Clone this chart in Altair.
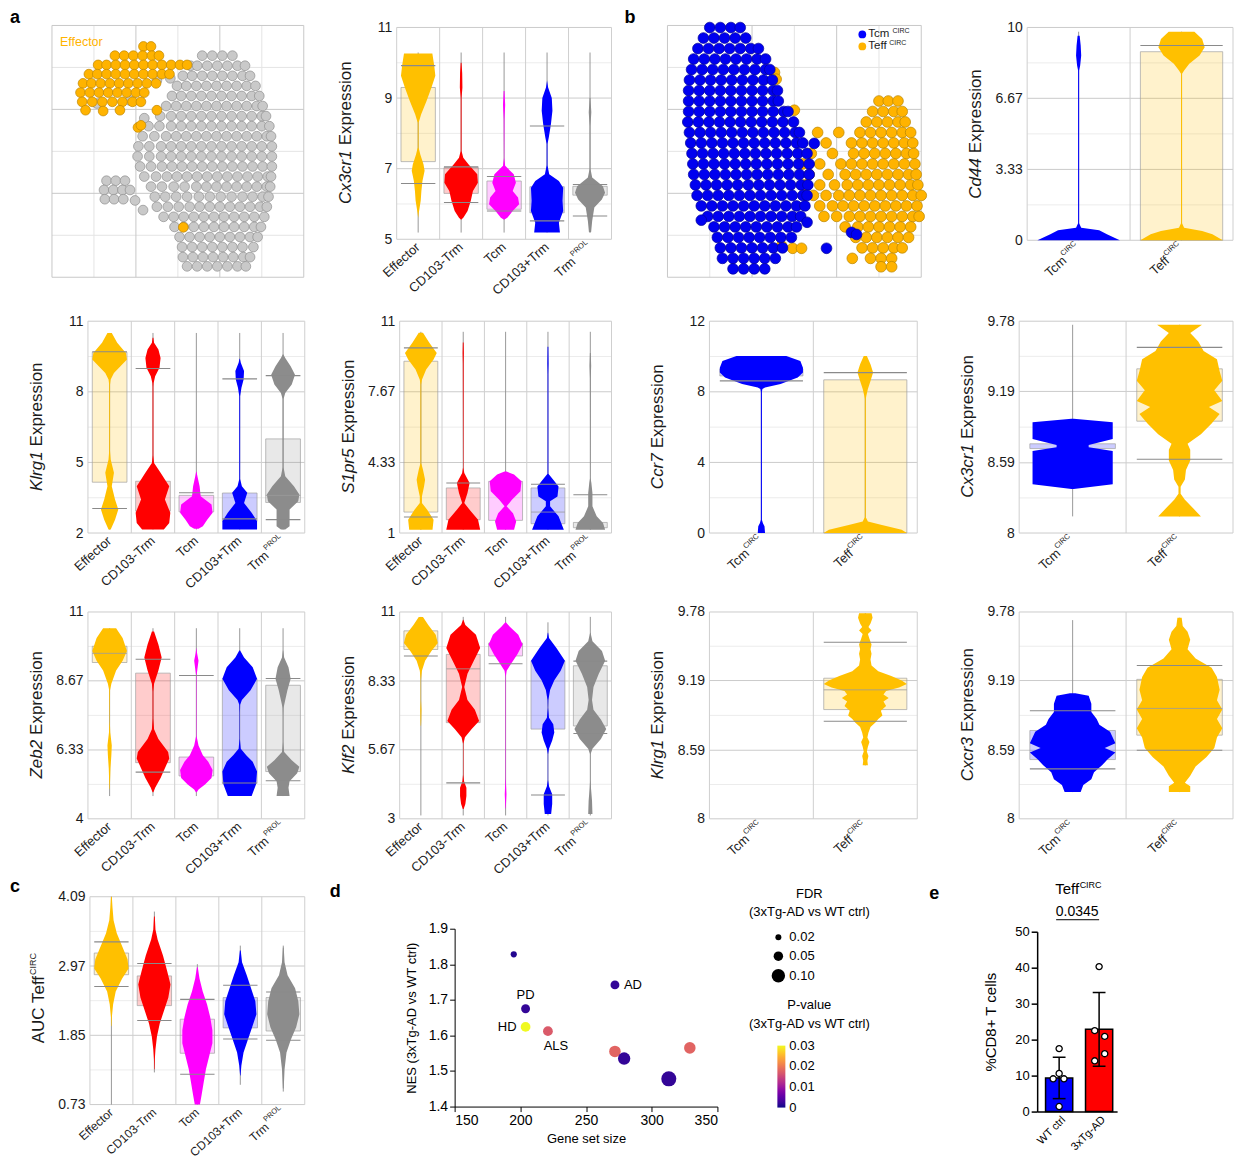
import json
import altair as alt
import pandas as pd

FONT = "Liberation Sans"
INK = "#1b1b1b"
GOLD = "#FFC000"
RED = "#FF0000"
MAG = "#FF00FF"
BLUE = "#0000FF"
GRAY = "#8C8C8C"

# ---------------- categories ----------------
CELL5 = ["Effector", "CD103-Trm", "Tcm", "CD103+Trm", "Trm"]
CELL5_SUP = ["", "", "", "", "PROL"]
CELL5_COL = [GOLD, RED, MAG, BLUE, GRAY]
CIRC2 = ["Tcm", "Teff"]
CIRC2_SUP = ["CIRC", "CIRC"]
CIRC2_COL = [BLUE, GOLD]

# ---------------- violin data: (expression, half-width) profiles, tails, boxes ----------------
# box = (q1, q3, median, lower whisker, upper whisker)
CX3CR1_A_TICKS = [5, 7, 9, 11]
CX3CR1_A_PROF = [
    [(5.6, 0.0), (5.75, 0.03), (6.1, 0.12), (6.37, 0.15), (6.65, 0.2), (6.94, 0.3), (7.12, 0.25), (7.4, 0.1), (7.6, 0.02), (8.3, 0.02), (8.54, 0.14), (8.92, 0.39), (9.3, 0.62), (9.63, 0.8), (9.91, 0.75), (10.26, 0.66)],
    [(5.55, 0.0), (5.61, 0.1), (5.8, 0.3), (6.09, 0.45), (6.37, 0.55), (6.6, 0.78), (6.84, 0.75), (7.12, 0.35), (7.31, 0.1), (7.5, 0.02), (9.0, 0.02), (9.3, 0.06), (9.7, 0.05), (10.0, 0.02)],
    [(5.55, 0.0), (5.61, 0.15), (5.8, 0.4), (5.99, 0.7), (6.18, 0.65), (6.37, 0.4), (6.6, 0.55), (6.84, 0.45), (7.08, 0.05), (7.3, 0.01), (8.4, 0.02), (8.8, 0.05), (9.2, 0.02)],
    [(5.19, 0.6), (5.47, 0.55), (5.8, 0.75), (6.09, 0.72), (6.46, 0.75), (6.65, 0.55), (6.84, 0.1), (7.1, 0.02), (7.7, 0.02), (7.88, 0.08), (8.26, 0.18), (8.64, 0.25), (9.0, 0.22), (9.3, 0.05), (9.5, 0.0)],
    [(5.2, 0.05), (5.52, 0.1), (5.9, 0.2), (6.13, 0.55), (6.32, 0.7), (6.5, 0.6), (6.75, 0.1), (7.0, 0.02), (8.2, 0.02), (8.6, 0.06), (9.0, 0.02)],
]
CX3CR1_A_TAIL = [(5.19, 10.29), (5.19, 10.29), (5.19, 10.29), (5.19, 10.29), (5.19, 10.29)]
CX3CR1_A_BOX = [(7.2, 9.3, None, 6.58, 9.92), (6.3, 7.03, None, 6.04, 7.05), (5.85, 6.65, None, 5.8, 6.78), (5.75, 6.49, None, 5.52, 8.21), (6.25, 6.5, None, 5.66, 6.55)]

KLRG1_A_TICKS = [2, 5, 8, 11]
KLRG1_A_PROF = [
    [(2.15, 0.05), (2.57, 0.25), (3.0, 0.4), (3.42, 0.25), (3.99, 0.1), (4.56, 0.2), (5.12, 0.05), (5.5, 0.02), (8.3, 0.02), (8.52, 0.05), (8.8, 0.2), (9.09, 0.5), (9.37, 0.8), (9.65, 0.75), (10.08, 0.35), (10.5, 0.1)],
    [(2.15, 0.5), (2.43, 0.75), (2.86, 0.8), (3.42, 0.55), (3.99, 0.75), (4.56, 0.35), (4.98, 0.05), (5.3, 0.02), (8.2, 0.02), (8.38, 0.03), (8.66, 0.1), (9.02, 0.3), (9.44, 0.35), (9.8, 0.25), (10.08, 0.05), (10.3, 0.02)],
    [(2.18, 0.1), (2.29, 0.3), (2.57, 0.5), (2.86, 0.75), (3.21, 0.7), (3.56, 0.2), (3.99, 0.15), (4.41, 0.05), (4.6, 0.01)],
    [(2.15, 0.8), (2.5, 0.8), (2.86, 0.55), (3.28, 0.2), (3.71, 0.35), (3.99, 0.1), (4.3, 0.02), (7.6, 0.02), (7.81, 0.02), (8.17, 0.08), (8.52, 0.18), (8.88, 0.2), (9.23, 0.05), (9.4, 0.01)],
    [(2.15, 0.1), (2.29, 0.3), (2.64, 0.3), (3.0, 0.3), (3.35, 0.7), (3.64, 0.75), (3.99, 0.5), (4.41, 0.1), (4.8, 0.02), (7.7, 0.02), (7.95, 0.1), (8.31, 0.4), (8.73, 0.55), (9.09, 0.35), (9.44, 0.1), (9.6, 0.01)],
]
KLRG1_A_TAIL = [(2.15, 10.5)] * 5
KLRG1_A_BOX = [(4.16, 9.68, None, 3.04, 9.7), (2.93, 4.2, None, None, 8.99), (2.9, 3.6, None, None, 3.71), (2.5, 3.7, None, 2.6, 8.55), (3.3, 6.0, 3.6, 2.57, 8.69)]

S1PR5_TICKS = [1, 4.33, 7.67, 11]
S1PR5_PROF = [
    [(1.16, 0.55), (1.63, 0.6), (2.1, 0.3), (2.42, 0.05), (2.73, 0.05), (3.2, 0.15), (3.52, 0.2), (3.99, 0.1), (4.3, 0.02), (8.0, 0.02), (8.24, 0.05), (8.72, 0.25), (9.19, 0.6), (9.5, 0.75), (9.98, 0.4), (10.45, 0.1)],
    [(1.16, 0.8), (1.63, 0.7), (2.1, 0.3), (2.42, 0.05), (2.89, 0.2), (3.36, 0.3), (3.83, 0.05), (4.1, 0.01), (9.0, 0.02), (9.5, 0.03), (10.0, 0.02)],
    [(1.16, 0.4), (1.55, 0.5), (1.94, 0.35), (2.26, 0.05), (2.57, 0.3), (2.97, 0.7), (3.44, 0.75), (3.76, 0.4), (3.9, 0.05)],
    [(1.16, 0.75), (1.79, 0.5), (2.26, 0.1), (2.5, 0.1), (2.73, 0.45), (3.2, 0.5), (3.52, 0.25), (3.8, 0.02), (8.5, 0.02), (9.0, 0.03), (9.8, 0.02)],
    [(1.16, 0.7), (1.47, 0.6), (1.79, 0.3), (2.26, 0.1), (2.89, 0.1), (3.36, 0.05), (3.6, 0.01), (8.3, 0.02), (8.9, 0.04), (9.5, 0.02)],
]
S1PR5_TAIL = [(1.15, 10.5)] * 5
S1PR5_BOX = [(1.99, 9.11, None, 1.76, 9.74), (1.63, 3.13, None, None, 3.36), (1.6, 3.44, None, None, None), (1.44, 3.13, 1.99, None, 3.3), (1.25, 1.5, None, None, 2.81)]

ZEB2_TICKS = [4, 6.33, 8.67, 11]
ZEB2_PROF = [
    [(5.0, 0.01), (5.27, 0.02), (5.71, 0.04), (6.15, 0.08), (6.48, 0.1), (6.92, 0.03), (7.3, 0.01), (8.35, 0.02), (8.57, 0.08), (9.02, 0.3), (9.35, 0.6), (9.68, 0.8), (10.12, 0.6), (10.45, 0.3)],
    [(4.9, 0.02), (5.05, 0.1), (5.38, 0.35), (5.71, 0.55), (6.04, 0.75), (6.26, 0.7), (6.7, 0.25), (7.03, 0.05), (7.4, 0.02), (8.3, 0.02), (8.57, 0.05), (9.02, 0.25), (9.46, 0.4), (9.9, 0.25), (10.34, 0.05)],
    [(4.9, 0.02), (4.99, 0.1), (5.16, 0.4), (5.38, 0.7), (5.65, 0.75), (5.93, 0.55), (6.15, 0.3), (6.48, 0.1), (6.8, 0.01), (8.85, 0.01), (9.07, 0.05), (9.35, 0.1), (9.62, 0.03), (9.8, 0.0)],
    [(4.77, 0.55), (5.16, 0.75), (5.6, 0.8), (5.93, 0.6), (6.15, 0.3), (6.37, 0.05), (6.7, 0.01), (7.6, 0.01), (7.86, 0.02), (8.02, 0.1), (8.35, 0.5), (8.74, 0.8), (9.13, 0.6), (9.46, 0.2), (9.7, 0.02)],
    [(4.77, 0.3), (5.05, 0.25), (5.27, 0.3), (5.54, 0.65), (5.76, 0.75), (5.98, 0.4), (6.26, 0.05), (6.6, 0.01), (7.5, 0.01), (7.75, 0.02), (8.02, 0.1), (8.35, 0.2), (8.74, 0.35), (9.13, 0.25), (9.46, 0.05), (9.7, 0.01)],
]
ZEB2_TAIL = [(4.77, 10.45)] * 5
ZEB2_BOX = [(9.29, 9.84, 9.6, None, None), (5.9, 8.93, None, 5.58, 9.4), (5.45, 6.09, None, None, 8.85), (5.2, 8.74, None, 5.21, None), (5.6, 8.52, None, 5.29, 8.75)]

KLF2_TICKS = [3, 5.67, 8.33, 11]
KLF2_PROF = [
    [(6.6, 0.01), (6.84, 0.02), (7.22, 0.03), (7.6, 0.01), (8.36, 0.01), (8.73, 0.05), (9.11, 0.2), (9.49, 0.5), (9.8, 0.8), (10.12, 0.7), (10.5, 0.35), (10.81, 0.1)],
    [(3.38, 0.02), (3.57, 0.1), (3.88, 0.15), (4.2, 0.15), (4.45, 0.04), (4.7, 0.01), (5.9, 0.01), (6.15, 0.08), (6.47, 0.4), (6.78, 0.75), (7.22, 0.55), (7.6, 0.2), (8.1, 0.05), (8.61, 0.2), (9.11, 0.5), (9.61, 0.8), (10.12, 0.6), (10.5, 0.1), (10.7, 0.01)],
    [(3.4, 0.01), (3.57, 0.02), (3.95, 0.04), (4.33, 0.02), (4.6, 0.01), (8.5, 0.01), (8.73, 0.05), (9.05, 0.3), (9.36, 0.55), (9.74, 0.8), (10.12, 0.6), (10.43, 0.2), (10.6, 0.01)],
    [(3.19, 0.15), (3.57, 0.2), (3.95, 0.2), (4.26, 0.05), (4.5, 0.01), (5.5, 0.01), (5.71, 0.05), (6.03, 0.2), (6.34, 0.3), (6.66, 0.25), (6.91, 0.05), (7.3, 0.01), (7.6, 0.02), (7.98, 0.1), (8.36, 0.3), (8.73, 0.6), (9.11, 0.8), (9.61, 0.4), (9.99, 0.05), (10.2, 0.01)],
    [(3.19, 0.1), (3.7, 0.08), (4.2, 0.03), (4.5, 0.01), (5.5, 0.01), (5.71, 0.1), (6.09, 0.5), (6.47, 0.75), (6.84, 0.5), (7.22, 0.15), (7.6, 0.08), (8.1, 0.15), (8.61, 0.4), (9.11, 0.7), (9.49, 0.55), (9.87, 0.1), (10.2, 0.01)],
]
KLF2_TAIL = [(3.13, 10.81), (3.13, 10.81), (3.13, 10.81), (3.13, 10.6), (3.13, 10.81)]
KLF2_BOX = [(9.55, 10.27, None, 9.3, None), (6.72, 9.36, 8.8, 4.39, None), (9.3, 9.8, None, 9.0, None), (6.47, 9.11, None, 3.92, None), (6.59, 8.92, None, 6.3, 9.1)]

AUC_TICKS = [0.73, 1.85, 2.97, 4.09]
AUC_PROF = [
    [(2.0, 0.01), (2.14, 0.02), (2.35, 0.08), (2.56, 0.2), (2.77, 0.5), (2.93, 0.8), (3.08, 0.75), (3.29, 0.5), (3.5, 0.25), (3.71, 0.1), (3.92, 0.05), (4.09, 0.02)],
    [(1.3, 0.01), (1.46, 0.02), (1.62, 0.05), (1.83, 0.12), (2.04, 0.25), (2.25, 0.45), (2.46, 0.65), (2.67, 0.75), (2.88, 0.6), (3.14, 0.4), (3.4, 0.15), (3.56, 0.05), (3.77, 0.02)],
    [(0.73, 0.12), (0.89, 0.2), (1.1, 0.3), (1.3, 0.4), (1.51, 0.55), (1.72, 0.7), (1.93, 0.7), (2.14, 0.6), (2.35, 0.45), (2.56, 0.25), (2.77, 0.1), (2.95, 0.02)],
    [(1.2, 0.01), (1.36, 0.05), (1.57, 0.15), (1.78, 0.35), (1.98, 0.55), (2.19, 0.75), (2.4, 0.7), (2.61, 0.5), (2.82, 0.3), (3.03, 0.08), (3.22, 0.02)],
    [(0.99, 0.02), (1.3, 0.06), (1.57, 0.15), (1.78, 0.35), (1.98, 0.6), (2.19, 0.75), (2.4, 0.7), (2.61, 0.55), (2.82, 0.2), (3.03, 0.06), (3.27, 0.02)],
]
AUC_TAIL = [(0.73, 4.09), (1.25, 3.85), (0.73, 3.0), (1.05, 3.3), (0.94, 3.3)]
AUC_BOX = [(2.83, 3.18, None, 2.64, 3.36), (2.33, 2.81, None, 2.09, 3.01), (1.56, 2.11, None, 1.22, 2.43), (1.97, 2.46, None, 1.79, 2.66), (1.92, 2.46, None, 1.77, 2.55)]

CD44_TICKS = [0, 3.33, 6.67, 10]
CD44_PROF = [
    [(0.0, 0.8), (0.28, 0.55), (0.47, 0.4), (0.59, 0.05), (0.8, 0.01), (7.98, 0.01), (8.21, 0.03), (8.68, 0.05), (9.15, 0.04), (9.61, 0.02)],
    [(0.0, 0.8), (0.28, 0.6), (0.44, 0.4), (0.59, 0.05), (0.8, 0.01), (7.82, 0.01), (7.98, 0.05), (8.29, 0.15), (8.68, 0.35), (9.07, 0.45), (9.46, 0.4), (9.8, 0.25)],
]
CD44_TAIL = [(0.0, 9.8), (0.0, 9.8)]
CD44_BOX = [None, (0.0, 8.86, None, None, 9.15)]

CCR7_TICKS = [0, 4, 8, 12]
CCR7_PROF = [
    [(0.0, 0.07), (0.38, 0.06), (0.56, 0.03), (0.75, 0.01), (8.0, 0.01), (8.16, 0.02), (8.25, 0.07), (8.44, 0.37), (8.81, 0.7), (9.09, 0.8), (9.37, 0.8), (9.75, 0.75), (10.03, 0.48)],
    [(0.0, 0.8), (0.19, 0.7), (0.47, 0.3), (0.66, 0.05), (0.9, 0.01), (7.6, 0.01), (7.78, 0.02), (8.16, 0.05), (8.62, 0.1), (9.09, 0.15), (9.56, 0.1), (10.03, 0.03)],
]
CCR7_TAIL = [(0.0, 8.2), (0.0, 8.0)]
CCR7_BOX = [(8.9, 9.3, None, 8.62, None), (0.0, 8.68, None, None, 9.09)]

CX3CR1_B_TICKS = [8, 8.59, 9.19, 9.78]
CX3CR1_B_PROF = [
    [(8.37, 0.02), (8.41, 0.75), (8.69, 0.75), (8.72, 0.3), (8.74, 0.3), (8.79, 0.75), (8.93, 0.75), (8.96, 0.02)],
    [(8.14, 0.4), (8.21, 0.25), (8.28, 0.1), (8.33, 0.02), (8.39, 0.02), (8.45, 0.1), (8.53, 0.12), (8.61, 0.2), (8.7, 0.2), (8.75, 0.15), (8.83, 0.4), (8.92, 0.6), (9.0, 0.75), (9.06, 0.55), (9.11, 0.8), (9.2, 0.65), (9.28, 0.8), (9.36, 0.75), (9.46, 0.7), (9.53, 0.45), (9.61, 0.35), (9.68, 0.2), (9.75, 0.42)],
]
CX3CR1_B_TAIL = [(8.14, 9.75), (8.14, 9.75)]
CX3CR1_B_BOX = [(8.71, 8.75, None, None, None), (8.94, 9.38, None, 8.62, 9.56)]

KLRG1_B_TICKS = [8, 8.59, 9.19, 9.78]
KLRG1_B_PROF = [
    [],
    [(8.46, 0.05), (8.5, 0.04), (8.54, 0.06), (8.58, 0.03), (8.62, 0.05), (8.66, 0.08), (8.7, 0.04), (8.74, 0.06), (8.79, 0.1), (8.83, 0.2), (8.86, 0.25), (8.89, 0.33), (8.93, 0.3), (8.97, 0.4), (9.01, 0.35), (9.04, 0.45), (9.07, 0.35), (9.1, 0.4), (9.13, 0.65), (9.16, 0.8), (9.19, 0.7), (9.23, 0.5), (9.27, 0.25), (9.32, 0.12), (9.37, 0.1), (9.42, 0.12), (9.46, 0.1), (9.5, 0.12), (9.55, 0.08), (9.59, 0.05), (9.62, 0.12), (9.65, 0.06), (9.68, 0.1), (9.73, 0.14), (9.77, 0.12)],
]
KLRG1_B_TAIL = [None, (8.46, 9.77)]
KLRG1_B_BOX = [None, (8.94, 9.21, 9.11, 8.84, 9.52)]

CXCR3_TICKS = [8, 8.59, 9.19, 9.78]
CXCR3_PROF = [
    [(8.23, 0.15), (8.29, 0.2), (8.34, 0.35), (8.4, 0.4), (8.46, 0.55), (8.51, 0.65), (8.57, 0.8), (8.61, 0.6), (8.65, 0.8), (8.7, 0.75), (8.75, 0.7), (8.81, 0.5), (8.86, 0.45), (8.92, 0.35), (8.99, 0.35), (9.06, 0.3), (9.08, 0.05)],
    [(8.23, 0.2), (8.28, 0.2), (8.31, 0.1), (8.37, 0.2), (8.45, 0.3), (8.53, 0.5), (8.61, 0.65), (8.7, 0.7), (8.78, 0.8), (8.86, 0.7), (8.94, 0.8), (9.02, 0.7), (9.11, 0.75), (9.22, 0.7), (9.3, 0.6), (9.38, 0.3), (9.46, 0.15), (9.54, 0.2), (9.61, 0.15), (9.66, 0.06), (9.73, 0.04)],
]
CXCR3_TAIL = [(8.23, 9.71), (8.23, 9.73)]
CXCR3_BOX = [(8.51, 8.76, None, 8.43, 8.93), (8.72, 9.2, 8.95, 8.59, 9.32)]

# ---------------- UMAP points (read row by row) ----------------
A_GRAY_ROWS = [
    (5.28, [3.58, 3.82, 4.06, 4.30]),
    (5.04, [3.30, 3.46, 3.70, 3.94, 4.18, 4.42, 4.60]),
    (4.80, [3.12, 3.34, 3.58, 3.82, 4.06, 4.30, 4.54, 4.72]),
    (4.56, [2.98, 3.20, 3.44, 3.68, 3.92, 4.16, 4.40, 4.64, 4.85]),
    (4.32, [2.86, 3.08, 3.32, 3.56, 3.80, 4.04, 4.28, 4.52, 4.76, 4.94]),
    (4.08, [2.72, 2.96, 3.20, 3.44, 3.68, 3.92, 4.16, 4.40, 4.64, 4.88, 5.02]),
    (3.84, [2.58, 2.84, 3.08, 3.32, 3.56, 3.80, 4.04, 4.28, 4.52, 4.76, 5.00, 5.10]),
    (3.60, [2.30, 2.56, 2.84, 3.08, 3.32, 3.56, 3.80, 4.04, 4.28, 4.52, 4.76, 5.00, 5.18]),
    (3.36, [2.16, 2.44, 2.72, 2.96, 3.20, 3.44, 3.68, 3.92, 4.16, 4.40, 4.64, 4.88, 5.12, 5.22]),
    (3.12, [2.06, 2.32, 2.60, 2.84, 3.08, 3.32, 3.56, 3.80, 4.04, 4.28, 4.52, 4.76, 5.00, 5.24]),
    (2.88, [2.04, 2.32, 2.60, 2.84, 3.08, 3.32, 3.56, 3.80, 4.04, 4.28, 4.52, 4.76, 5.00, 5.24]),
    (2.64, [2.10, 2.36, 2.62, 2.86, 3.10, 3.34, 3.58, 3.82, 4.06, 4.30, 4.54, 4.78, 5.02, 5.24]),
    (2.40, [2.20, 2.48, 2.74, 2.98, 3.22, 3.46, 3.70, 3.94, 4.18, 4.42, 4.66, 4.90, 5.14, 5.22]),
    (2.16, [2.36, 2.62, 2.90, 3.16, 3.44, 3.68, 3.92, 4.16, 4.40, 4.64, 4.88, 5.12, 5.20]),
    (1.92, [2.45, 2.70, 2.96, 3.22, 3.50, 3.76, 4.02, 4.28, 4.54, 4.78, 5.02, 5.16]),
    (1.68, [2.50, 2.76, 3.02, 3.28, 3.52, 3.76, 4.00, 4.24, 4.48, 4.72, 4.96, 5.12]),
    (1.44, [2.66, 2.90, 3.14, 3.38, 3.62, 3.86, 4.10, 4.34, 4.58, 4.82, 5.06]),
    (1.20, [2.92, 3.14, 3.38, 3.62, 3.86, 4.10, 4.34, 4.58, 4.82, 4.98]),
    (0.96, [3.04, 3.28, 3.52, 3.76, 4.00, 4.24, 4.48, 4.72, 4.90]),
    (0.72, [3.10, 3.34, 3.58, 3.82, 4.06, 4.30, 4.54, 4.80]),
    (0.48, [3.12, 3.36, 3.60, 3.84, 4.08, 4.32, 4.56, 4.72]),
    (0.26, [3.22, 3.46, 3.70, 3.94, 4.18, 4.42, 4.62]),
    (2.30, [1.30, 1.52, 1.74]),
    (2.08, [1.24, 1.46, 1.68, 1.86]),
    (1.86, [1.26, 1.48, 1.70]),
]
A_GRAY_STRAY = [(1.98, 1.83), (2.17, 1.60), (2.50, 4.69), (2.82, 4.74), (2.20, 3.79), (1.07, 4.14), (1.86, 4.21)]
A_EFF_ROWS = [
    (5.50, [2.18, 2.36]),
    (5.28, [1.50, 1.72, 1.94, 2.16, 2.38, 2.55]),
    (5.06, [1.10, 1.30, 1.52, 1.74, 1.96, 2.18, 2.40, 2.62, 2.84, 3.05, 3.22]),
    (4.84, [0.88, 1.08, 1.30, 1.52, 1.74, 1.96, 2.18, 2.40, 2.62, 2.80]),
    (4.62, [0.74, 0.94, 1.16, 1.38, 1.60, 1.82, 2.04, 2.26, 2.48]),
    (4.40, [0.68, 0.90, 1.12, 1.34, 1.56, 1.78, 2.00, 2.20]),
    (4.18, [0.72, 0.96, 1.20, 1.44, 1.68, 1.92, 2.12]),
]
A_EFF_STRAY = [(0.80, 3.98), (1.22, 3.96), (1.62, 3.98), (2.50, 3.98), (2.05, 3.57), (2.12, 3.62), (3.13, 1.19)]

B_TCM_ROWS = [
    (5.95, [1.00, 1.25, 1.50, 1.72]),
    (5.70, [0.85, 1.10, 1.35, 1.60, 1.85]),
    (5.45, [0.72, 0.97, 1.22, 1.47, 1.72, 1.97, 2.15]),
    (5.20, [0.62, 0.87, 1.12, 1.37, 1.62, 1.87, 2.12, 2.32]),
    (4.95, [0.57, 0.82, 1.07, 1.32, 1.57, 1.82, 2.07, 2.32, 2.42]),
    (4.70, [0.52, 0.77, 1.02, 1.27, 1.52, 1.77, 2.02, 2.27, 2.48]),
    (4.45, [0.50, 0.75, 1.00, 1.25, 1.50, 1.75, 2.00, 2.25, 2.50, 2.60]),
    (4.20, [0.50, 0.75, 1.00, 1.25, 1.50, 1.75, 2.00, 2.25, 2.50, 2.62]),
    (3.95, [0.50, 0.75, 1.00, 1.25, 1.50, 1.75, 2.00, 2.25, 2.50, 2.75, 2.85]),
    (3.70, [0.48, 0.73, 0.98, 1.23, 1.48, 1.73, 1.98, 2.23, 2.48, 2.73, 2.98]),
    (3.45, [0.52, 0.77, 1.02, 1.27, 1.52, 1.77, 2.02, 2.27, 2.52, 2.77, 3.02, 3.12]),
    (3.20, [0.55, 0.80, 1.05, 1.30, 1.55, 1.80, 2.05, 2.30, 2.55, 2.80, 3.05, 3.20]),
    (2.95, [0.58, 0.83, 1.08, 1.33, 1.58, 1.83, 2.08, 2.33, 2.58, 2.83, 3.08, 3.30]),
    (2.70, [0.60, 0.85, 1.10, 1.35, 1.60, 1.85, 2.10, 2.35, 2.60, 2.85, 3.10, 3.35]),
    (2.45, [0.62, 0.87, 1.12, 1.37, 1.62, 1.87, 2.12, 2.37, 2.62, 2.87, 3.12, 3.35]),
    (2.20, [0.66, 0.91, 1.16, 1.41, 1.66, 1.91, 2.16, 2.41, 2.66, 2.91, 3.16, 3.32]),
    (1.95, [0.70, 0.95, 1.20, 1.45, 1.70, 1.95, 2.20, 2.45, 2.70, 2.95, 3.20, 3.30]),
    (1.70, [0.80, 1.05, 1.30, 1.55, 1.80, 2.05, 2.30, 2.55, 2.80, 3.05, 3.25]),
    (1.45, [0.95, 1.20, 1.45, 1.70, 1.95, 2.20, 2.45, 2.70, 2.95, 3.15]),
    (1.20, [1.10, 1.35, 1.60, 1.85, 2.10, 2.35, 2.60, 2.85, 3.05]),
    (0.95, [1.18, 1.43, 1.68, 1.93, 2.18, 2.43, 2.68, 2.93]),
    (0.70, [1.25, 1.50, 1.75, 2.00, 2.25, 2.50, 2.72]),
    (0.45, [1.30, 1.55, 1.80, 2.05, 2.30, 2.55]),
    (0.20, [1.55, 1.80, 2.05, 2.30]),
]
B_TCM_STRAY = [(3.47, 3.19), (4.35, 1.07), (4.47, 1.02), (3.76, 0.69), (0.80, 1.36), (3.30, 1.31)]
B_TEFF_ROWS = [
    (4.20, [5.00, 5.22, 5.45]),
    (3.95, [4.85, 5.10, 5.35, 5.55]),
    (3.70, [4.70, 4.95, 5.20, 5.45, 5.62]),
    (3.45, [3.55, 4.05, 4.55, 4.80, 5.05, 5.30, 5.55, 5.75]),
    (3.20, [3.75, 4.35, 4.60, 4.85, 5.10, 5.35, 5.60, 5.80]),
    (2.95, [3.40, 3.90, 4.40, 4.65, 4.90, 5.15, 5.40, 5.65, 5.82]),
    (2.70, [3.20, 3.60, 4.10, 4.35, 4.60, 4.85, 5.10, 5.35, 5.60, 5.85]),
    (2.45, [3.35, 3.80, 4.20, 4.45, 4.70, 4.95, 5.20, 5.45, 5.70, 5.88]),
    (2.20, [3.25, 3.60, 3.95, 4.25, 4.50, 4.75, 5.00, 5.25, 5.50, 5.75, 5.92]),
    (1.95, [3.45, 3.75, 4.05, 4.30, 4.55, 4.80, 5.05, 5.30, 5.55, 5.80, 6.00]),
    (1.70, [3.60, 3.90, 4.15, 4.40, 4.65, 4.90, 5.15, 5.40, 5.65, 5.90]),
    (1.45, [3.70, 4.00, 4.30, 4.55, 4.80, 5.05, 5.30, 5.55, 5.80, 5.95]),
    (1.20, [4.20, 4.50, 4.75, 5.00, 5.25, 5.50, 5.75]),
    (0.95, [4.45, 4.70, 4.95, 5.20, 5.45, 5.70]),
    (0.70, [4.60, 4.85, 5.10, 5.35, 5.55]),
    (0.45, [4.80, 5.05, 5.30]),
    (0.25, [5.05, 5.30]),
]
B_TEFF_STRAY = [(2.53, 4.88), (2.57, 4.72), (3.00, 3.98), (4.37, 0.45), (2.96, 0.69), (3.17, 0.69), (2.70, 0.75)]

# ---------------- panel d (GSEA) ----------------
D_GENESET = [195, 204, 272, 204, 221, 272, 279, 313, 329]
D_NES = [1.828, 1.675, 1.742, 1.624, 1.612, 1.555, 1.535, 1.478, 1.565]
D_FDR = [0.021, 0.044, 0.044, 0.053, 0.053, 0.074, 0.085, 0.126, 0.074]
D_PVAL = [0.001, 0.002, 0.002, 0.030, 0.017, 0.018, 0.002, 0.002, 0.018]
D_LABEL = ["", "PD", "AD", "HD", "ALS", "", "", "", ""]
D_PVAL_TICKS = ["0.03", "0.02", "0.01", "0"]

# ---------------- panel e (bar) ----------------
E_GROUPS = ["WT ctrl", "3xTg-AD"]
E_MEAN = [9.3, 22.9]
E_SD_LO = [3.6, 12.6]
E_SD_HI = [15.1, 33.1]
E_PT_GROUP = [0, 0, 0, 0, 0, 1, 1, 1, 1, 1]
E_PT_VALUE = [17.5, 10.6, 9.1, 9.1, 1.4, 40.3, 22.5, 20.9, 16.1, 14.1]
E_PT_JITTER = [0.0, 0.0, -0.15, 0.12, 0.0, 0.0, -0.11, 0.14, 0.14, -0.11]

VIEW_W, VIEW_H = 1226, 1150
MAJOR_GRID = "#cbcbcb"
MINOR_GRID = "#ececec"


# ================= helpers =================
def tw(s, size):
    tot = 0.0
    for ch in s:
        if ch in "il":
            w = 0.222
        elif ch in "fjt I":
            w = 0.278
        elif ch in "r-":
            w = 0.333
        elif ch == "m":
            w = 0.833
        elif ch.isupper():
            w = 0.70
        elif ch.isdigit():
            w = 0.556
        else:
            w = 0.53
        tot += w
    return tot * size


def one():
    return pd.DataFrame({"k": [0]})


def label(s, x, y, **kw):
    return alt.Chart(one()).mark_text(text=s, **kw).encode(x=alt.value(x), y=alt.value(y))


def letter(s, x, y):
    return label(s, x, y, fontSize=18, fontWeight="bold", align="left", baseline="alphabetic", color="black")


def hgrid(values, Y, L, W, color):
    return alt.Chart(pd.DataFrame({"v": values})).mark_rule(color=color, strokeWidth=1).encode(
        y=Y("v"), x=alt.value(L), x2=alt.value(L + W))


def vgrid(values, X, T, H, color):
    return alt.Chart(pd.DataFrame({"b": values})).mark_rule(color=color, strokeWidth=1).encode(
        x=X("b"), y=alt.value(T), y2=alt.value(T + H))


def violin_panel(gene, ticks, prof, tails, boxes, names, sups, colors, L, W, T, H, lab_size=13, extra=()):
    """Plot rectangle at (L, T, W, H) inside the shared canvas."""
    n = len(names)
    minors = [round((a + b) / 2.0, 4) for a, b in zip(ticks[:-1], ticks[1:])]
    xs = alt.Scale(domain=[-0.5, n - 0.5], range=[L, L + W], nice=False, zero=False)
    ys = alt.Scale(domain=[ticks[0], ticks[-1]], range=[T + H, T], nice=False, zero=False)
    yax = alt.Axis(orient="left", values=ticks, format=".2~f", grid=False, ticks=False,
                   domain=False, title=None, labelFontSize=14, labelColor=INK, labelPadding=5, offset=-L)

    def X(f):
        return alt.X(f, type="quantitative", scale=xs, axis=None)

    def Y(f):
        return alt.Y(f, type="quantitative", scale=ys, axis=yax)

    cs = alt.Scale(domain=list(range(n)), range=colors)
    layers = [
        hgrid(minors, Y, L, W, MINOR_GRID),
        hgrid(ticks, Y, L, W, MAJOR_GRID),
        vgrid([i - 0.5 for i in range(n + 1)], X, T, H, "#cfcfcf"),
    ]
    box_df = pd.DataFrame([{"g": i, "q1": b[0], "q3": b[1]} for i, b in enumerate(boxes) if b])
    if len(box_df):
        layers.append(alt.Chart(box_df).mark_rect(fillOpacity=0.2, stroke="#a0a0a0", strokeWidth=0.7)
                      .transform_calculate(xl="datum.g - 0.4", xr="datum.g + 0.4")
                      .encode(x=X("xl"), x2="xr:Q", y=Y("q1"), y2="q3:Q",
                              fill=alt.Fill("g:N", scale=cs, legend=None)))
    tail_df = pd.DataFrame([{"g": i, "lo": t[0], "hi": t[1]} for i, t in enumerate(tails) if t])
    layers.append(alt.Chart(tail_df).mark_rule(color="#8d8d8d", strokeWidth=0.9)
                  .encode(x=X("g"), y=Y("lo"), y2="hi:Q"))
    for i, p in enumerate(prof):
        if not p:
            continue
        pdf = pd.DataFrame({"g": i, "y": [a for a, _ in p], "w": [b for _, b in p]})
        layers.append(alt.Chart(pdf).mark_area(orient="horizontal", fill=colors[i], opacity=1)
                      .transform_calculate(xl="datum.g - datum.w * 0.5", xr="datum.g + datum.w * 0.5")
                      .encode(y=Y("y"), x=X("xl"), x2="xr:Q"))
    wh_df = pd.DataFrame([{"g": i, "v": v} for i, b in enumerate(boxes) if b for v in (b[3], b[4]) if v is not None])
    if len(wh_df):
        layers.append(alt.Chart(wh_df).mark_rule(color="#8a8a8a", strokeWidth=1.1)
                      .transform_calculate(xl="datum.g - 0.4", xr="datum.g + 0.4")
                      .encode(x=X("xl"), x2="xr:Q", y=Y("v")))
    md_df = pd.DataFrame([{"g": i, "v": b[2]} for i, b in enumerate(boxes) if b and b[2] is not None])
    if len(md_df):
        layers.append(alt.Chart(md_df).mark_rule(color="#9a9a9a", strokeWidth=0.8)
                      .transform_calculate(xl="datum.g - 0.4", xr="datum.g + 0.4")
                      .encode(x=X("xl"), x2="xr:Q", y=Y("v")))
    lab = pd.DataFrame({"g": list(range(n)), "name": names, "sup": sups})
    tstyle = dict(angle=318, align="right", baseline="middle", fontSize=lab_size, color=INK)
    ly = T + H + 6
    plain = lab[lab["sup"] == ""]
    if len(plain):
        layers.append(alt.Chart(plain).mark_text(**tstyle).encode(x=X("g"), y=alt.value(ly), text="name:N"))
    for s in sorted(set(x for x in sups if x)):
        sub = lab[lab["sup"] == s]
        layers.append(alt.Chart(sub).mark_text(dx=-(tw(s, 7.5) + 1), **tstyle)
                      .encode(x=X("g"), y=alt.value(ly), text="name:N"))
        layers.append(alt.Chart(sub).mark_text(angle=318, align="right", baseline="middle", fontSize=7.5, dy=-5,
                                               color=INK).encode(x=X("g"), y=alt.value(ly), text="sup:N"))
    if gene:
        gw = tw(gene, 17)
        ew = tw("Expression", 17)
        ay = T + H / 2.0 + (ew - gw) / 2.0
        layers.append(label(gene, L - 51, ay, angle=270, align="right", baseline="middle", fontSize=17,
                            fontStyle="italic", dx=-2, color=INK))
        layers.append(label("Expression", L - 51, ay, angle=270, align="left", baseline="middle", fontSize=17,
                            dx=3, color=INK))
    layers += list(extra)
    return alt.layer(*layers)


def umap_grid(X, Y, L, W, T, H):
    lines = [0, 1, 2, 3, 4, 5, 6]
    minor = [v for v in lines if v % 2]
    major = [v for v in lines if v % 2 == 0]
    return [hgrid(minor, Y, L, W, "#e4e4e4"), vgrid(minor, X, T, H, "#e4e4e4"),
            hgrid(major, Y, L, W, "#c8c8c8"), vgrid(major, X, T, H, "#c8c8c8")]


def pts_layer(rows, strays, fill, stroke, size, X, Y):
    pts = [{"u": u, "v": v} for v, us in rows for u in us] + [{"u": u, "v": v} for u, v in strays]
    return alt.Chart(pd.DataFrame(pts)).mark_circle(size=size, fill=fill, stroke=stroke, strokeWidth=0.7,
                                                    opacity=1).encode(x=X("u"), y=Y("v"))


def umap_scales(L, W, T, H):
    xs = alt.Scale(domain=[0, 6], range=[L, L + W], nice=False, zero=False)
    ys = alt.Scale(domain=[0, 6], range=[T + H, T], nice=False, zero=False)

    def X(f):
        return alt.X(f, type="quantitative", scale=xs, axis=None)

    def Y(f):
        return alt.Y(f, type="quantitative", scale=ys, axis=None)
    return X, Y


def panel_a(L, W, T, H):
    X, Y = umap_scales(L, W, T, H)
    return alt.layer(
        *umap_grid(X, Y, L, W, T, H),
        pts_layer(A_GRAY_ROWS, A_GRAY_STRAY, "#c9c9c9", "#8f8f8f", 95, X, Y),
        pts_layer(A_EFF_ROWS, A_EFF_STRAY, "#FFB300", "#C08600", 95, X, Y),
        label("Effector", L + 8, T + 17, fontSize=12.5, align="left", baseline="middle", color="#FFB300"),
        letter("a", 2, 15),
    )


def panel_b(L, W, T, H):
    X, Y = umap_scales(L, W, T, H)
    tcm_w = tw("Tcm", 11.5)
    teff_w = tw("Teff", 11.5)
    lx = L + 195
    return alt.layer(
        *umap_grid(X, Y, L, W, T, H),
        pts_layer(B_TEFF_ROWS, B_TEFF_STRAY, "#FFB300", "#B88500", 115, X, Y),
        pts_layer(B_TCM_ROWS, B_TCM_STRAY, "#0000F0", "#00009A", 115, X, Y),
        alt.Chart(one()).mark_circle(size=60, fill=BLUE, opacity=1).encode(x=alt.value(lx), y=alt.value(T + 9)),
        alt.Chart(one()).mark_circle(size=60, fill="#FFB300", opacity=1).encode(x=alt.value(lx),
                                                                               y=alt.value(T + 21)),
        label("Tcm", lx + 6, T + 9, fontSize=11.5, align="left", baseline="middle", color=INK),
        label("CIRC", lx + 6 + tcm_w + 0.5, T + 6, fontSize=7, align="left", baseline="middle", color=INK),
        label("Teff", lx + 6, T + 21, fontSize=11.5, align="left", baseline="middle", color=INK),
        label("CIRC", lx + 6 + teff_w + 0.5, T + 18, fontSize=7, align="left", baseline="middle", color=INK),
        letter("b", L - 43, 15),
    )


def panel_d(L, W, top, base):
    df = pd.DataFrame({"gss": D_GENESET, "nes": D_NES, "fdr": D_FDR, "p": D_PVAL, "lab": D_LABEL})
    xs = alt.Scale(domain=[150, 350], range=[L, L + W], nice=False, zero=False)
    ys = alt.Scale(domain=[1.4, 1.9], range=[base, top], nice=False, zero=False)
    common = dict(labelFontSize=14, labelColor="black", tickColor="black", tickSize=5, domainColor="black",
                  grid=False, titleFontSize=13, titleFontWeight="normal", titleColor="black")
    xax = alt.Axis(orient="bottom", values=[150, 200, 250, 300, 350], format="d", title="Gene set size",
                   titlePadding=5, labelPadding=2, offset=-(VIEW_H - base), **common)
    yax = alt.Axis(orient="left", values=[1.4, 1.5, 1.6, 1.7, 1.8, 1.9], format=".1f",
                   title="NES (3xTg-AD vs WT ctrl)", titlePadding=10, offset=-L, **common)
    X = alt.X("gss:Q", scale=xs, axis=xax)
    Y = alt.Y("nes:Q", scale=ys, axis=yax)
    grad_top, grad_len = 1038, 62
    pts = alt.Chart(df).mark_circle(opacity=1).encode(
        x=X, y=Y,
        size=alt.Size("fdr:Q", scale=alt.Scale(domain=[0, 0.1], range=[0, 180]),
                      legend=alt.Legend(orient="none", legendX=764, legendY=923, title=None,
                                        values=[0.02, 0.05, 0.1], format=".2f", symbolFillColor="black",
                                        symbolStrokeColor="black", symbolStrokeWidth=0, symbolType="circle",
                                        labelFontSize=13, labelColor="black", rowPadding=5, padding=0)),
        color=alt.Color("p:Q", scale=alt.Scale(scheme="plasma", domain=[0, 0.03]),
                        legend=alt.Legend(orient="none", legendX=770, legendY=grad_top, title=None,
                                          labelOpacity=0, gradientLength=grad_len, gradientThickness=8,
                                          direction="vertical", padding=0)),
    )
    step = grad_len / (len(D_PVAL_TICKS) - 1)
    grad_labels = [label(t, 782, grad_top + k * step, fontSize=13, align="left", baseline="middle",
                         color="black") for k, t in enumerate(D_PVAL_TICKS)]
    tstyle = dict(fontSize=13, color="black")
    labs = [
        alt.Chart(df).transform_filter("datum.lab == 'PD'").mark_text(align="center", baseline="middle", dy=-14,
                                                                      **tstyle).encode(x=X, y=Y, text="lab:N"),
        alt.Chart(df).transform_filter("datum.lab == 'AD'").mark_text(align="left", baseline="middle", dx=9,
                                                                      **tstyle).encode(x=X, y=Y, text="lab:N"),
        alt.Chart(df).transform_filter("datum.lab == 'HD'").mark_text(align="right", baseline="middle", dx=-9,
                                                                      **tstyle).encode(x=X, y=Y, text="lab:N"),
        alt.Chart(df).transform_filter("datum.lab == 'ALS'").mark_text(align="center", baseline="middle", dx=8,
                                                                       dy=15, **tstyle).encode(x=X, y=Y, text="lab:N"),
    ]
    cx = 802
    titles = [
        label("FDR", cx, 886, fontSize=13, align="center", baseline="middle", color="black"),
        label("(3xTg-AD vs WT ctrl)", cx, 904, fontSize=13, align="center", baseline="middle", color="black"),
        label("P-value", cx, 997, fontSize=13, align="center", baseline="middle", color="black"),
        label("(3xTg-AD vs WT ctrl)", cx, 1016, fontSize=13, align="center", baseline="middle", color="black"),
    ]
    return alt.layer(pts, *labs, *titles, *grad_labels, letter("d", 322, 889))


def panel_e(L, W, top, base):
    bars = pd.DataFrame({"g": [0, 1], "m": E_MEAN, "lo": E_SD_LO, "hi": E_SD_HI, "name": E_GROUPS})
    pts = pd.DataFrame({"g": E_PT_GROUP, "v": E_PT_VALUE, "j": E_PT_JITTER})
    xs = alt.Scale(domain=[-0.55, 1.45], range=[L, L + W], nice=False, zero=False)
    ys = alt.Scale(domain=[0, 50], range=[base, top], nice=False)
    xax = alt.Axis(orient="bottom", values=[0, 1], labelExpr=json.dumps(E_GROUPS) + "[datum.value]",
                   labelAngle=315, labelFontSize=11, labelColor="black", ticks=False, domainColor="black",
                   domainWidth=1.5, grid=False, title=None, labelPadding=2, offset=-(VIEW_H - base))
    yax = alt.Axis(orient="left", values=[0, 10, 20, 30, 40, 50], labelFontSize=13, labelColor="black",
                   tickColor="black", tickSize=6, tickWidth=1.5, domainColor="black", domainWidth=1.5, grid=False,
                   title="%CD8+ T cells", titleFontSize=15, titleFontWeight="normal", titleColor="black",
                   titlePadding=16, offset=-L)

    def X(f):
        return alt.X(f, type="quantitative", scale=xs, axis=xax)

    def Y(f):
        return alt.Y(f, type="quantitative", scale=ys, axis=yax)

    cs = alt.Scale(domain=[0, 1], range=[BLUE, RED])
    cx = L + 40
    return alt.layer(
        alt.Chart(bars).mark_rect(stroke="black", strokeWidth=1.5)
        .transform_calculate(xl="datum.g - 0.34", xr="datum.g + 0.34", zero="0")
        .encode(x=X("xl"), x2="xr:Q", y=Y("m"), y2="zero:Q", fill=alt.Fill("g:N", scale=cs, legend=None)),
        alt.Chart(bars).mark_rule(color="black", strokeWidth=1.5).encode(x=X("g"), y=Y("lo"), y2="hi:Q"),
        alt.Chart(bars).mark_rule(color="black", strokeWidth=1.5)
        .transform_calculate(xl="datum.g - 0.16", xr="datum.g + 0.16").encode(x=X("xl"), x2="xr:Q", y=Y("hi")),
        alt.Chart(bars).mark_rule(color="black", strokeWidth=1.5)
        .transform_calculate(xl="datum.g - 0.16", xr="datum.g + 0.16").encode(x=X("xl"), x2="xr:Q", y=Y("lo")),
        alt.Chart(pts).mark_point(filled=True, fill="white", stroke="black", strokeWidth=1.3, size=38, opacity=1)
        .transform_calculate(xp="datum.g + datum.j").encode(x=X("xp"), y=Y("v")),
        label("Teff", cx + 2, top - 43, fontSize=15, align="right", baseline="middle", color="black"),
        label("CIRC", cx + 2.5, top - 47, fontSize=9, align="left", baseline="middle", color="black"),
        label("0.0345", cx, top - 20, fontSize=14, align="center", baseline="middle", color="black"),
        alt.Chart(one()).mark_rule(color="black", strokeWidth=1).encode(
            x=alt.value(L + 19), x2=alt.value(L + 62), y=alt.value(top - 12)),
        letter("e", 922, 891),
    )


# ================= layout: one shared canvas, panels placed by scale ranges =================
R1V, R2, R3, R4 = 19, 313, 604, 889          # plot tops (canvas coordinates)
COLX = [80, 392, 702, 1012]                    # violin plot left edges for rows 2-3
COLW = [217, 212, 208, 214]

panels = [
    panel_a(44, 252, 17, 252),
    violin_panel("Cx3cr1", CX3CR1_A_TICKS, CX3CR1_A_PROF, CX3CR1_A_TAIL, CX3CR1_A_BOX, CELL5, CELL5_SUP,
                 CELL5_COL, 389, 215, R1V, 212),
    panel_b(660, 254, 17, 252),
    violin_panel("Cd44", CD44_TICKS, CD44_PROF, CD44_TAIL, CD44_BOX, CIRC2, CIRC2_SUP, CIRC2_COL,
                 1020, 206, R1V, 213),

    violin_panel("Klrg1", KLRG1_A_TICKS, KLRG1_A_PROF, KLRG1_A_TAIL, KLRG1_A_BOX, CELL5, CELL5_SUP, CELL5_COL,
                 COLX[0], COLW[0], R2, 212),
    violin_panel("S1pr5", S1PR5_TICKS, S1PR5_PROF, S1PR5_TAIL, S1PR5_BOX, CELL5, CELL5_SUP, CELL5_COL,
                 COLX[1], COLW[1], R2, 212),
    violin_panel("Ccr7", CCR7_TICKS, CCR7_PROF, CCR7_TAIL, CCR7_BOX, CIRC2, CIRC2_SUP, CIRC2_COL,
                 COLX[2], COLW[2], R2, 212),
    violin_panel("Cx3cr1", CX3CR1_B_TICKS, CX3CR1_B_PROF, CX3CR1_B_TAIL, CX3CR1_B_BOX, CIRC2, CIRC2_SUP,
                 CIRC2_COL, COLX[3], COLW[3], R2, 212),

    violin_panel("Zeb2", ZEB2_TICKS, ZEB2_PROF, ZEB2_TAIL, ZEB2_BOX, CELL5, CELL5_SUP, CELL5_COL,
                 COLX[0], COLW[0], R3, 207),
    violin_panel("Klf2", KLF2_TICKS, KLF2_PROF, KLF2_TAIL, KLF2_BOX, CELL5, CELL5_SUP, CELL5_COL,
                 COLX[1], COLW[1], R3, 207),
    violin_panel("Klrg1", KLRG1_B_TICKS, KLRG1_B_PROF, KLRG1_B_TAIL, KLRG1_B_BOX, CIRC2, CIRC2_SUP, CIRC2_COL,
                 COLX[2], COLW[2], R3, 207),
    violin_panel("Cxcr3", CXCR3_TICKS, CXCR3_PROF, CXCR3_TAIL, CXCR3_BOX, CIRC2, CIRC2_SUP, CIRC2_COL,
                 COLX[3], COLW[3], R3, 207),
]

C_L, C_W, C_H = 82, 215, 208
auc_main_w = tw("AUC Teff", 17)
auc_sup_w = tw("CIRC", 9)
auc_anchor = R4 + C_H / 2.0 - (auc_main_w - auc_sup_w) / 2.0
panels.append(violin_panel(None, AUC_TICKS, AUC_PROF, AUC_TAIL, AUC_BOX, CELL5, CELL5_SUP, CELL5_COL,
                           C_L, C_W, R4, C_H, lab_size=12,
                           extra=[label("AUC Teff", C_L - 51, auc_anchor, angle=270, align="right",
                                        baseline="middle", fontSize=17, color=INK),
                                  label("CIRC", C_L - 51, auc_anchor, angle=270, align="left", baseline="middle",
                                        fontSize=9, dy=-6, dx=1, color=INK),
                                  letter("c", 2, 884)]))
panels.append(panel_d(447, 263, 921, 1099))
panels.append(panel_e(1030, 80, 924, 1104))

chart = alt.layer(*panels).resolve_scale(
    x="independent", y="independent", fill="independent", color="independent", size="independent"
).resolve_axis(x="independent", y="independent").properties(
    width=VIEW_W, height=VIEW_H, padding=0).configure(font=FONT).configure_view(stroke=None)

chart.save("out.html", embed_options={"renderer": "svg", "actions": False})
